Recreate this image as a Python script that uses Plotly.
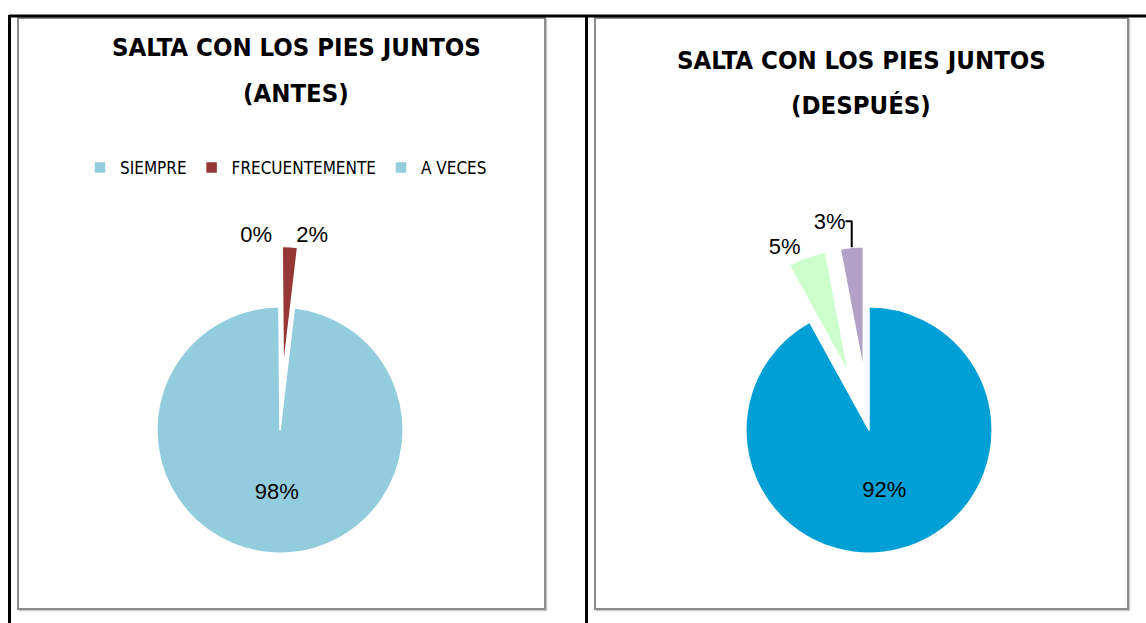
import plotly.graph_objects as go

categories = ["SIEMPRE", "FRECUENTEMENTE", "A VECES"]
antes_values = [0, 2, 98]
despues_values = [92, 5, 3]
antes_colors = ["#93CDDD", "#953735", "#93CDDD"]
despues_colors = ["#00A0D6", "#CCFFCC", "#B2A1C7"]
title_antes = ["SALTA CON LOS PIES JUNTOS", "(ANTES)"]
title_despues = ["SALTA CON LOS PIES JUNTOS", "(DESPUÉS)"]

W, H = 1146, 623

def px(x):
    return x / W

def py(y):
    return 1 - y / H

TITLE_FONT = "DejaVu Sans Condensed, Liberation Sans Narrow, sans-serif"
LABEL_FONT = "Liberation Sans, Arial, sans-serif"

fig = go.Figure()

fig.add_trace(go.Pie(
    labels=categories, values=antes_values, sort=False, direction="clockwise",
    rotation=-0.5, pull=[0.49, 0.49, 0],
    marker=dict(colors=antes_colors, line=dict(color="white", width=1.5)),
    textinfo="percent", textposition=["outside", "outside", "inside"],
    insidetextorientation="horizontal",
    textfont=dict(family=LABEL_FONT, size=22, color="black"),
    domain=dict(x=[px(96.5), px(463.5)], y=[py(613.5), py(246.5)]),
    legend="legend", showlegend=True, hoverinfo="label+percent",
))

fig.add_trace(go.Pie(
    labels=categories, values=despues_values, sort=False, direction="clockwise",
    rotation=0, pull=[0, 0.49, 0.49],
    marker=dict(colors=despues_colors, line=dict(color="white", width=1.5)),
    textinfo="percent", textposition=["inside", "outside", "outside"],
    insidetextorientation="horizontal",
    textfont=dict(family=LABEL_FONT, size=22, color="black"),
    domain=dict(x=[px(685.5), px(1052.5)], y=[py(613.5), py(246.5)]),
    legend="legend2", showlegend=True, hoverinfo="label+percent",
))

shapes = []
# table lines (black)
shapes.append(dict(type="line", xref="paper", yref="paper", x0=px(9), x1=1, y0=py(16), y1=py(16),
                   line=dict(color="black", width=3)))
shapes.append(dict(type="line", xref="paper", yref="paper", x0=px(9.5), x1=px(9.5), y0=py(15), y1=0,
                   line=dict(color="black", width=3)))
shapes.append(dict(type="line", xref="paper", yref="paper", x0=px(586.5), x1=px(586.5), y0=py(15), y1=0,
                   line=dict(color="black", width=3)))
# chart boxes (grey) with a faint shadow
for x0, x1 in [(18, 545), (595, 1128)]:
    shapes.append(dict(type="rect", xref="paper", yref="paper", x0=px(x0 + 1.5), x1=px(x1 + 1.5),
                       y0=py(610.5), y1=py(19.5),
                       line=dict(color="#C8C8C8", width=1.5), fillcolor="rgba(0,0,0,0)", layer="below"))
    shapes.append(dict(type="rect", xref="paper", yref="paper", x0=px(x0), x1=px(x1), y0=py(609), y1=py(18),
                       line=dict(color="#8C8C8C", width=2), fillcolor="white", layer="below"))

annotations = []
for lines, cx, ys in [(title_antes, 296, (47, 93)), (title_despues, 861, (60, 105))]:
    for txt, yy in zip(lines, ys):
        annotations.append(dict(text=txt, x=px(cx), y=py(yy), xref="paper", yref="paper", showarrow=False,
                                xanchor="center", yanchor="middle", align="center",
                                font=dict(family=TITLE_FONT, size=25.5, color="black", weight="bold")))

legend_common = dict(orientation="h", xanchor="center", yanchor="middle",
                     font=dict(family=TITLE_FONT, size=17, color="black"),
                     bgcolor="rgba(0,0,0,0)", itemclick=False, itemdoubleclick=False,
                     traceorder="normal")

fig.update_layout(
    width=W, height=H,
    margin=dict(l=0, r=0, t=0, b=0, autoexpand=False),
    paper_bgcolor="white", plot_bgcolor="white",
    shapes=shapes, annotations=annotations,
    legend=dict(x=px(286), y=py(168), **legend_common),
    legend2=dict(x=px(866), y=py(168), **legend_common),
)

fig.write_html("out.html", config={"displayModeBar": False},
               post_script="document.body.style.margin='0px';")
